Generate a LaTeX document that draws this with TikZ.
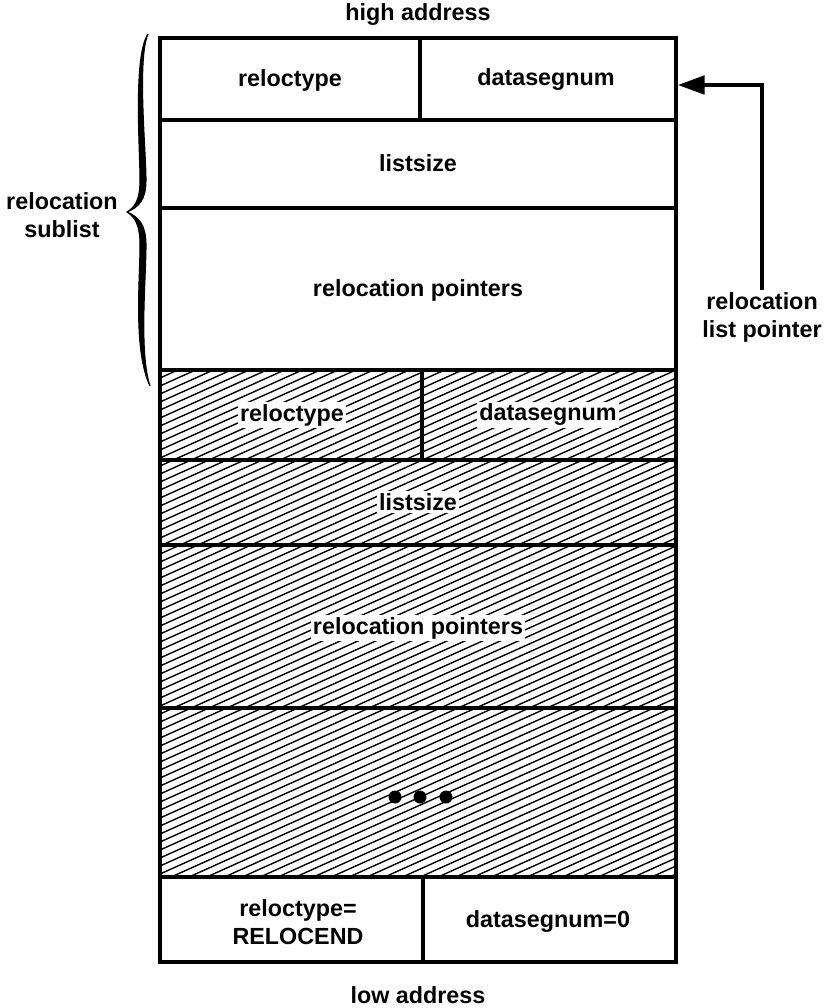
\documentclass[tikz,border=0pt]{standalone}
\usepackage{fontspec}
\setmainfont{Liberation Sans}
\usetikzlibrary{arrows.meta}
\begin{document}
\begin{tikzpicture}[x=0.75pt,y=-0.75pt,
  frame/.style={line width=2.6pt},
  divider/.style={line width=2.4pt},
  thickdiv/.style={line width=3.2pt},
  hatch/.style={line width=1.05pt},
  lbl/.style={font=\bfseries\fontsize{17.5}{21}\selectfont, inner sep=1.5pt, align=center},
  klbl/.style={lbl, fill=white},
  pointer/.style={line width=2.4pt, -{Triangle[length=20pt,width=14pt]}},
  bracestyle/.style={line width=2.4pt, line cap=round, fill=black}
]
\useasboundingbox (0,0) rectangle (826,1008);

% hatching of the lower sublists
\begin{scope}
  \clip (160,370) rectangle (676,877);
  \foreach \c in {370,378,...,1120}
    \draw[hatch] (160,\c) -- (676,\c-232);
\end{scope}

% texts, top sublist
\node[lbl] (ht) at (418,15) {high address};
\node[lbl] (rt1) at (290,80) {reloctype};
\node[lbl] (ds1) at (546,80) {datasegnum};
\node[lbl] (ls1) at (418,163) {listsize};
\node[lbl] (rp1) at (418,290) {relocation pointers};

% texts, hatched sublist
\node[klbl] (rt2) at (292,415) {reloctype};
\node[klbl] (ds2) at (548,415) {datasegnum};
\node[klbl] (ls2) at (418,502) {listsize};
\node[klbl] (rp2) at (418,628) {relocation pointers};

% ellipsis dots
\fill (395,797) circle (6.5) (420,797) circle (6.5) (446,797) circle (6.5);

% bottom entry
\node[lbl] (rt3) at (298,922) {reloctype=\\RELOCEND};
\node[lbl] (ds3) at (548,922) {datasegnum=0};
\node[lbl] (lo) at (418,995) {low address};

% frame and dividers
\draw[frame] (160,38) rectangle (676,962);
\draw[divider] (160,120) -- (676,120);
\draw[divider] (160,208) -- (676,208);
\draw[thickdiv] (160,370) -- (676,370);
\draw[divider] (160,460) -- (676,460);
\draw[thickdiv] (160,545) -- (676,545);
\draw[thickdiv] (160,708) -- (676,708);
\draw[thickdiv] (160,877) -- (676,877);
\draw[divider] (420,38) -- (420,120);
\draw[divider] (422,370) -- (422,460);
\draw[divider] (423,877) -- (423,962);

% brace (filled, thicker in the middle) and its label
\draw[bracestyle, line width=0.8pt]
  (148,34) .. controls (133,56) and (140,150) .. (140,180)
  .. controls (140,200) and (135,207) .. (127,212)
  .. controls (135,217) and (140,225) .. (140,245)
  .. controls (140,280) and (133,350) .. (150,386)
  .. controls (139,352) and (146,280) .. (146,245)
  .. controls (146,225) and (139,217) .. (127,212)
  .. controls (139,207) and (146,200) .. (146,180)
  .. controls (146,150) and (137,60) .. (148,34) -- cycle;
\node[lbl] (sub) at (62,215) {relocation\\sublist};

% relocation list pointer
\node[lbl] (rlp) at (762,317) {relocation\\list pointer};
\coordinate (tgt) at (678,85);
\draw[pointer] (rlp.north) |- (tgt);
\end{tikzpicture}
\end{document}
